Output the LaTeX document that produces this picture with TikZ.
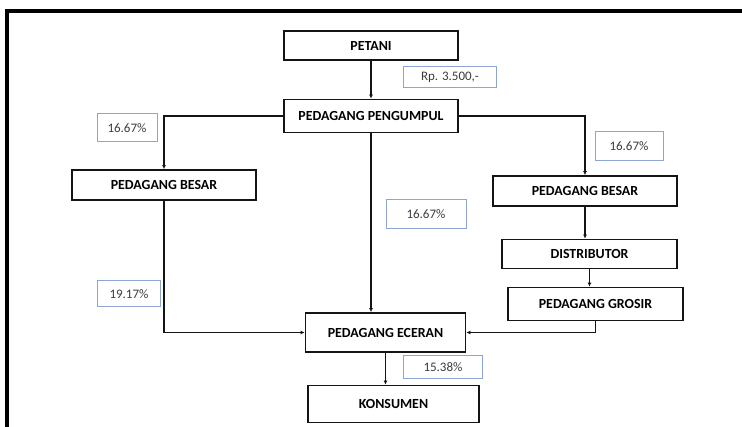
\documentclass[tikz,border=0pt]{standalone}
\usepackage{fontspec}
\setmainfont{Carlito}
\usetikzlibrary{arrows.meta, calc, positioning}

\definecolor{framegray}{RGB}{20,20,20}
\definecolor{pctblue}{RGB}{140,165,210}
\definecolor{pcttext}{RGB}{60,60,60}

\begin{document}
\begin{tikzpicture}[x=1pt, y=-1pt,
  actor/.style={draw=framegray, line width=1.8pt, align=center, inner sep=0pt,
                font=\fontsize{13.9}{16}\selectfont\bfseries},
  share/.style={draw=pctblue, line width=1pt, fill=white, inner sep=0pt, text=pcttext,
                font=\fontsize{13}{15}\selectfont},
  flow/.style={draw=framegray, line width=1.5pt, -{Latex[length=4pt,width=4pt]}}]
\useasboundingbox (0,0) rectangle (742,427);
% Frame
\draw[line width=3.6pt, black] (7,427) -- (7,11) -- (742,11);
% Nodes
\node (petani) [actor, minimum width=174pt, minimum height=29pt] at (371,45.5) {PETANI};
\node (pengumpul) [actor, minimum width=174pt, minimum height=33pt] at (371,116) {PEDAGANG PENGUMPUL};
\node (besarL) [actor, minimum width=184pt, minimum height=30pt] at (164,185) {PEDAGANG BESAR};
\node (besarR) [actor, minimum width=184pt, minimum height=30pt] at (585,191) {PEDAGANG BESAR};
\node (distributor) [actor, minimum width=175pt, minimum height=29pt] at (589.5,254) {DISTRIBUTOR};
\node (grosir) [actor, minimum width=175pt, minimum height=33pt] at (595.5,304) {PEDAGANG GROSIR};
\node (eceran) [actor, minimum width=160pt, minimum height=39pt] at (385.5,332.5) {PEDAGANG ECERAN};
\node (konsumen) [actor, minimum width=171pt, minimum height=37pt] at (393.5,404) {KONSUMEN};
% Margins
\node (rp) [share, minimum width=93pt, minimum height=21pt] at (450,77.5) {Rp. 3.500,-};
\node (pL) [share, minimum width=60pt, minimum height=28pt] at (127,128) {16.67\%};
\node (pR) [share, minimum width=68pt, minimum height=29pt] at (629,146) {16.67\%};
\node (pC) [share, minimum width=80pt, minimum height=29pt] at (426,214) {16.67\%};
\node (pB) [share, minimum width=63pt, minimum height=26pt] at (129,294) {19.17\%};
\node (pE) [share, minimum width=79pt, minimum height=23pt] at (443,367) {15.38\%};
% Arrows
\draw[flow] (petani) -- (pengumpul);
\draw[flow] (pengumpul.west) -| (besarL.north);
\draw[flow] (pengumpul.east) -| (besarR.north);
\draw[flow] (pengumpul.south) -- (pengumpul.south |- eceran.north);
\draw[flow] (besarR.south) -- (besarR.south |- distributor.north);
\draw[flow] (distributor.south) -- (distributor.south |- grosir.north);
\draw[flow] (grosir.south) |- (eceran.east);
\draw[flow] (besarL.south) |- (eceran.west);
\draw[flow] (eceran.south) -- (eceran.south |- konsumen.north);
\end{tikzpicture}
\end{document}
